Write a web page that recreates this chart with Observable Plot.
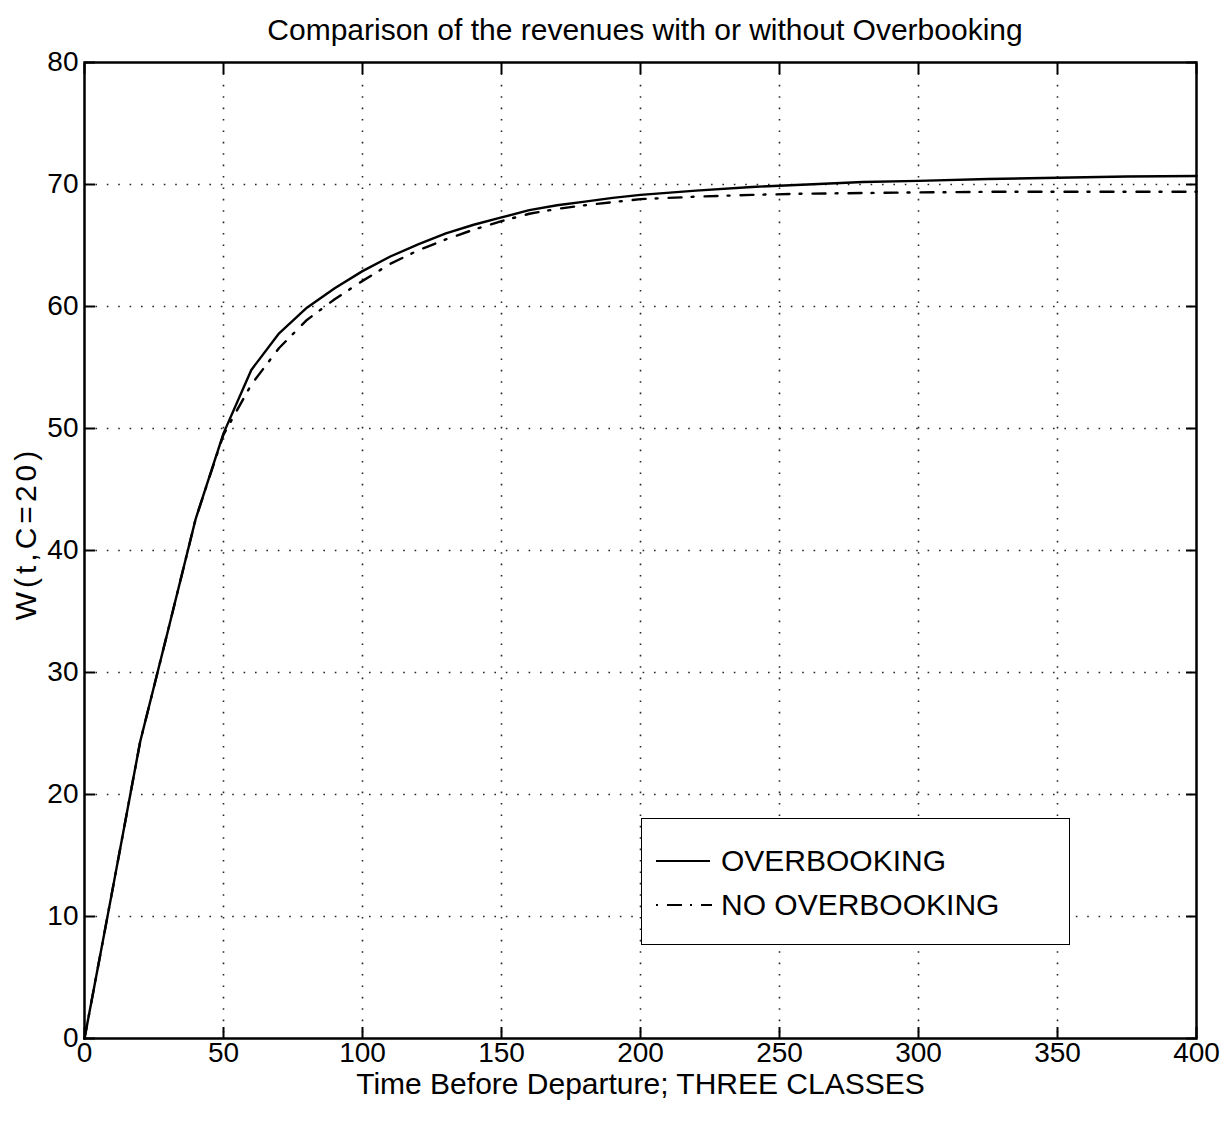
<!DOCTYPE html>
<html>
<head>
<meta charset="utf-8">
<script src="https://cdn.jsdelivr.net/npm/d3@7"></script>
<script src="https://cdn.jsdelivr.net/npm/@observablehq/plot@0.6"></script>
<style>
  html, body { margin: 0; padding: 0; background: #fff; }
  #wrap { position: relative; width: 1228px; height: 1122px; font-family: "Liberation Sans", Arial, Helvetica, sans-serif; color: #000; }
  #title { box-sizing: border-box; width: 1228px; height: 50px; padding-top: 15px; padding-left: 62px; text-align: center; font-size: 30px; line-height: 30px; }
  #legend { position: absolute; left: 641px; top: 818px; width: 427px; height: 125px; border: 1.5px solid #000; background: #fff; }
  .entry { position: absolute; left: 12px; height: 30px; display: flex; align-items: center; font-size: 30px; }
  .entry svg { margin-right: 9px; }
</style>
</head>
<body>
<div id="wrap">
  <div id="title">Comparison of the revenues with or without Overbooking</div>
  <div id="chart"></div>
  <div id="legend">
    <div class="entry" style="top: 27px;"><svg width="58" height="10"><line x1="2" x2="56" y1="5" y2="5" stroke="#000" stroke-width="2"/></svg>OVERBOOKING</div>
    <div class="entry" style="top: 71px;"><svg width="58" height="10"><line x1="2" x2="58" y1="5" y2="5" stroke="#000" stroke-width="2" stroke-dasharray="2,9,15,8,2,9,13"/></svg>NO OVERBOOKING</div>
  </div>
</div>
<script>
// Time before departure (x) and expected revenue W(t, C=20) for three fare classes
const times = [0, 10, 20, 30, 40, 50, 60, 70, 80, 90, 100, 110, 120, 130, 140, 150, 160, 170, 180, 190, 200, 220, 240, 260, 280, 300, 325, 350, 375, 400];
const overbooking = [0, 12.1, 24.3, 33.4, 42.6, 49.6, 54.8, 57.8, 59.9, 61.5, 62.9, 64.1, 65.1, 66.0, 66.7, 67.3, 67.9, 68.3, 68.6, 68.9, 69.15, 69.5, 69.8, 70.0, 70.2, 70.3, 70.45, 70.55, 70.65, 70.7];
const noOverbooking = [0, 12.1, 24.3, 33.4, 42.6, 49.5, 53.6, 56.6, 58.9, 60.6, 62.1, 63.5, 64.6, 65.5, 66.3, 67.0, 67.6, 68.0, 68.3, 68.55, 68.8, 69.0, 69.15, 69.25, 69.3, 69.35, 69.4, 69.4, 69.4, 69.4];

const xTicks = [0, 50, 100, 150, 200, 250, 300, 350, 400];
const yTicks = [0, 10, 20, 30, 40, 50, 60, 70, 80];
const xLabel = "Time Before Departure; THREE CLASSES";
const yLabel = "W(t,C=20)";

const rowsOver = times.map((t, i) => ({t, w: overbooking[i]}));
const rowsNo = times.map((t, i) => ({t, w: noOverbooking[i]}));

const grid = {stroke: "#000", strokeWidth: 1.6, strokeOpacity: 0.85, strokeDasharray: "1.6,9.8"};
const tick = {tickSize: -11, strokeWidth: 2};

const chart = Plot.plot({
  width: 1228,
  height: 1072,
  marginTop: 12,
  marginLeft: 84,
  marginRight: 32,
  marginBottom: 84,
  style: {fontFamily: "Liberation Sans, Arial, Helvetica, sans-serif", fontSize: "28px", color: "#000", background: "#fff", overflow: "visible"},
  x: {domain: [0, 400]},
  y: {domain: [0, 80]},
  marks: [
    Plot.ruleX(xTicks.slice(1, -1), {...grid}),
    Plot.ruleY(yTicks.slice(1, -1), {...grid}),
    Plot.line(rowsNo, {x: "t", y: "w", stroke: "#000", strokeWidth: 2.4, strokeDasharray: "13,10,2,11"}),
    Plot.line(rowsOver, {x: "t", y: "w", stroke: "#000", strokeWidth: 2.4}),
    Plot.axisX(xTicks, {anchor: "bottom", ...tick, tickPadding: 15, fontSize: 28, label: xLabel, labelAnchor: "center", labelOffset: 55, labelArrow: "none"}),
    Plot.axisX(xTicks, {anchor: "top", ...tick, tickFormat: () => "", label: null}),
    Plot.axisY(yTicks, {anchor: "left", ...tick, tickPadding: 17, fontSize: 28, label: null}),
    Plot.axisY(yTicks, {anchor: "right", ...tick, tickFormat: () => "", label: null}),
    // vertical axis title, set a little above the frame's middle
    Plot.text([yLabel], {text: (d) => d, frameAnchor: "left", textAnchor: "middle", rotate: -90, dx: -58, dy: -17, fontSize: 30, fill: "#000"}),
    Plot.frame({stroke: "#000", strokeWidth: 2.5})
  ]
});
d3.select(chart).selectAll('g[aria-label="x-axis label"] text').style("font-size", "30px");
d3.select(chart).selectAll('g[aria-label="text"] text').style("letter-spacing", "4px");
document.getElementById("chart").appendChild(chart);
</script>
</body>
</html>
